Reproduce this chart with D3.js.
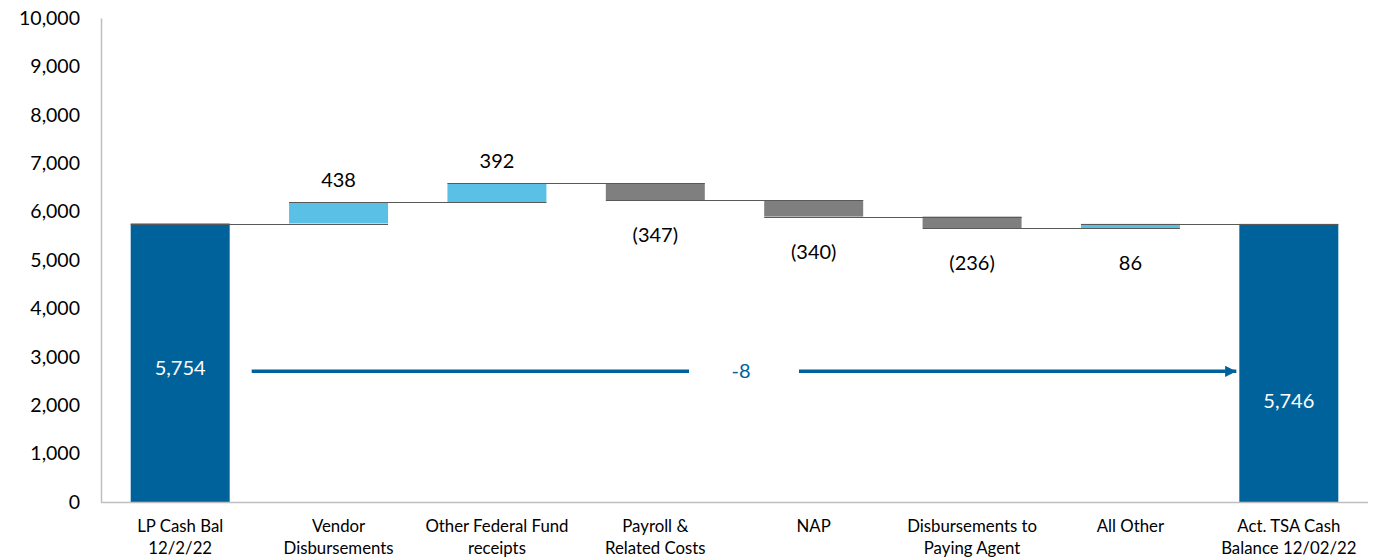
<!DOCTYPE html>
<html lang="en">
<head>
    <meta charset="UTF-8">
    <title>Cash Bridge</title>
    <script src="https://d3js.org/d3.v7.min.js"></script>
    <style>
        body {
            margin: 0;
            background: #fff;
            font-family: Lato, "Open Sans", sans-serif;
        }
        #chart {
            width: 1374px;
            height: 560px;
        }
    </style>
</head>
<body>
    <div id="chart"></div>
    <script>
        // Chart data
        const categories = [
            ['LP Cash Bal', '12/2/22'],
            ['Vendor', 'Disbursements'],
            ['Other Federal Fund', 'receipts'],
            ['Payroll &', 'Related Costs'],
            ['NAP'],
            ['Disbursements to', 'Paying Agent'],
            ['All Other'],
            ['Act. TSA Cash', 'Balance 12/02/22']
        ];
        const values = [5754, 438, 392, -347, -340, -236, 86, 5746];
        const kinds = ['total', 'delta', 'delta', 'delta', 'delta', 'delta', 'delta', 'total'];
        const yTicks = [0, 1000, 2000, 3000, 4000, 5000, 6000, 7000, 8000, 9000, 10000];
        const netChange = -8;

        const width = 1374;
        const height = 560;
        const margin = { top: 18, right: 6, bottom: 58, left: 101 };

        const colors = {
            total: '#00629b',
            up: '#5bc0e5',
            down: '#7f7f7f',
            connector: '#595959',
            axis: '#bfbfbf'
        };

        const svg = d3.select('#chart')
            .append('svg')
            .attr('width', width)
            .attr('height', height);

        const x = d3.scaleBand()
            .domain(d3.range(categories.length))
            .range([margin.left, width - margin.right])
            .paddingInner(0.375)
            .paddingOuter(0.1875);

        const y = d3.scaleLinear()
            .domain([0, 10000])
            .range([height - margin.bottom, margin.top]);

        // running totals -> bar start / end
        let running = 0;
        const bars = values.map((v, i) => {
            let start, end;
            if (kinds[i] === 'total') {
                start = 0;
                end = v;
                running = v;
            } else {
                start = running;
                end = running + v;
                running = end;
            }
            return { i, v, kind: kinds[i], start, end, level: kinds[i] === 'total' ? v : end };
        });

        // y axis
        const yAxis = svg.append('g')
            .attr('transform', `translate(${margin.left},0)`)
            .call(d3.axisLeft(y).tickValues(yTicks).tickSize(0).tickPadding(21).tickFormat(d3.format(',')));
        yAxis.select('.domain').attr('stroke', colors.axis).attr('stroke-width', 1.5);
        yAxis.selectAll('text')
            .attr('font-size', 19.5)
            .attr('font-family', 'Lato, sans-serif')
            .attr('fill', '#000');

        // bars
        svg.selectAll('rect.bar')
            .data(bars)
            .enter()
            .append('rect')
            .attr('class', 'bar')
            .attr('x', d => x(d.i))
            .attr('width', x.bandwidth())
            .attr('y', d => y(Math.max(d.start, d.end)))
            .attr('height', d => Math.abs(y(d.start) - y(d.end)))
            .attr('fill', d => d.kind === 'total' ? colors.total : (d.v >= 0 ? colors.up : colors.down));

        // connectors
        const links = bars.slice(0, -1).map((d, k) => ({ from: d, to: bars[k + 1] }));
        svg.selectAll('line.connector')
            .data(links)
            .enter()
            .append('line')
            .attr('class', 'connector')
            .attr('x1', d => x(d.from.i))
            .attr('x2', d => x(d.to.i) + x.bandwidth())
            .attr('y1', d => Math.round(y(d.from.level)) + 0.5)
            .attr('y2', d => Math.round(y(d.from.level)) + 0.5)
            .attr('stroke', colors.connector)
            .attr('stroke-width', 1.2);

        // x axis
        svg.append('line')
            .attr('x1', margin.left)
            .attr('x2', width - margin.right)
            .attr('y1', y(0) + 0.5)
            .attr('y2', y(0) + 0.5)
            .attr('stroke', colors.axis)
            .attr('stroke-width', 1.5);

        const catLabels = svg.selectAll('text.cat')
            .data(categories)
            .enter()
            .append('text')
            .attr('class', 'cat')
            .attr('x', (d, i) => x(i) + x.bandwidth() / 2)
            .attr('y', y(0) + 30)
            .attr('text-anchor', 'middle')
            .attr('font-size', 16.8)
            .attr('fill', '#000');
        catLabels.selectAll('tspan')
            .data(d => d)
            .enter()
            .append('tspan')
            .attr('x', function () { return d3.select(this.parentNode).attr('x'); })
            .attr('dy', (d, j) => j === 0 ? 0 : 22)
            .text(d => d);

        // value labels
        const fmt = d3.format(',');
        svg.selectAll('text.val')
            .data(bars)
            .enter()
            .append('text')
            .attr('class', 'val')
            .attr('x', d => x(d.i) + x.bandwidth() / 2)
            .attr('y', d => {
                if (d.kind === 'total') {
                    return d.i === 0 ? y(d.v / 2) + 12 : y(d.v / 2) + 45;
                }
                const top = y(Math.max(d.start, d.end));
                const bottom = y(Math.min(d.start, d.end));
                const below = d.v < 0 || (bottom - top) < 10;
                return below ? bottom + 42 : top - 15;
            })
            .attr('text-anchor', 'middle')
            .attr('font-size', 20)
            .attr('fill', d => d.kind === 'total' ? '#fff' : '#000')
            .text(d => d.v < 0 ? `(${fmt(-d.v)})` : fmt(d.v));

        // net change arrow
        const arrowY = y(2700);
        const arrowX1 = x(0) + x.bandwidth() + 22;
        const arrowX2 = x(categories.length - 1) - 3;
        const mid = (arrowX1 + arrowX2) / 2;
        const gap = 55;

        svg.append('defs').append('marker')
            .attr('id', 'arrowhead')
            .attr('viewBox', '0 0 10 10')
            .attr('refX', 10)
            .attr('refY', 5)
            .attr('markerWidth', 3.2)
            .attr('markerHeight', 3.2)
            .attr('orient', 'auto')
            .append('path')
            .attr('d', 'M0,0 L10,5 L0,10 Z')
            .attr('fill', colors.total);

        svg.append('line')
            .attr('x1', arrowX1)
            .attr('x2', mid - gap)
            .attr('y1', arrowY)
            .attr('y2', arrowY)
            .attr('stroke', colors.total)
            .attr('stroke-width', 3.5);

        svg.append('line')
            .attr('x1', mid + gap)
            .attr('x2', arrowX2)
            .attr('y1', arrowY)
            .attr('y2', arrowY)
            .attr('stroke', colors.total)
            .attr('stroke-width', 3.5)
            .attr('marker-end', 'url(#arrowhead)');

        svg.append('text')
            .attr('x', mid - 3)
            .attr('y', arrowY + 7)
            .attr('text-anchor', 'middle')
            .attr('font-size', 20)
            .attr('fill', colors.total)
            .text(netChange);
    </script>
</body>
</html>
